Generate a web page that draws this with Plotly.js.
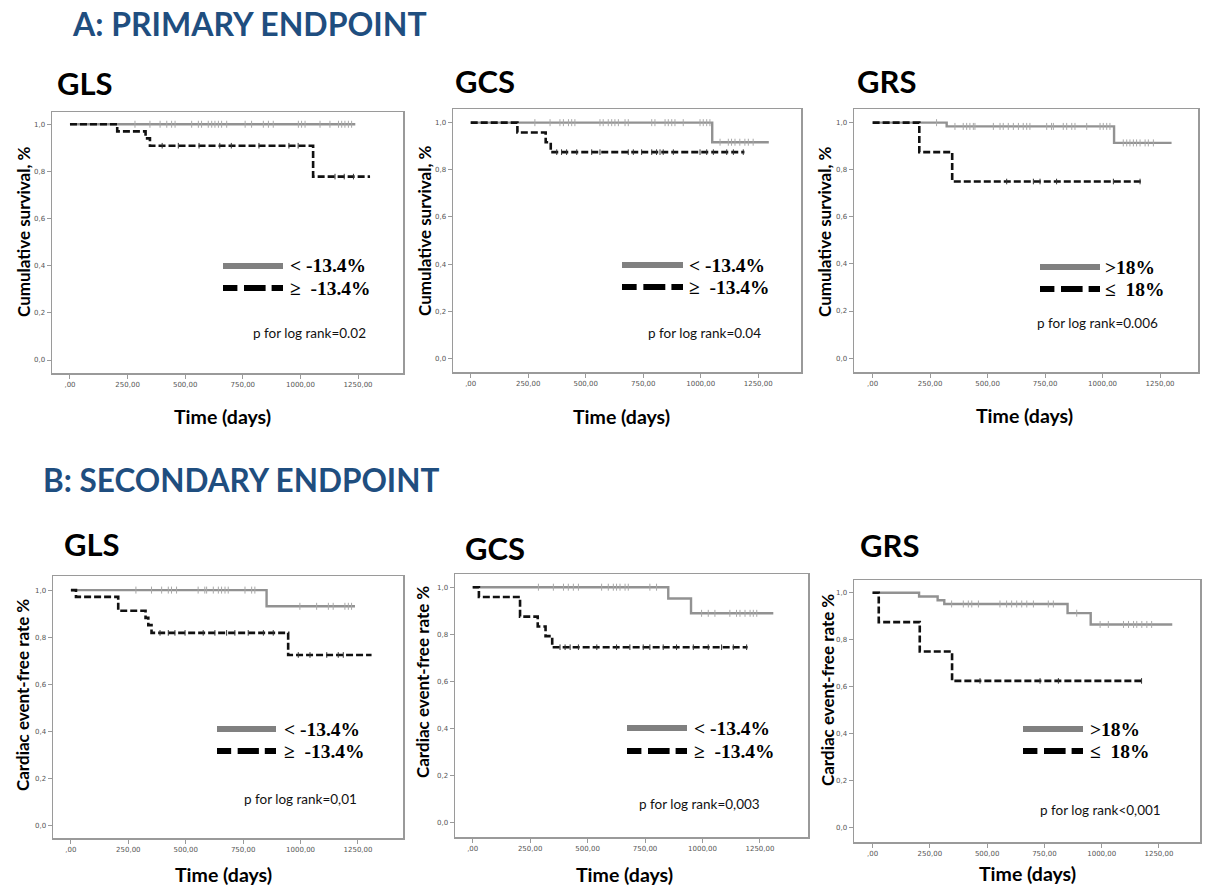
<!DOCTYPE html>
<html>
<head>
<meta charset="utf-8">
<script src="https://cdn.plot.ly/plotly-3.0.1.min.js"></script>
<style>html,body{margin:0;padding:0;background:#fff;}#chart{width:1210px;height:888px;}</style>
</head>
<body>
<div id="chart"></div>
<script>
// ---------- tick labels ----------
const xTickVals = [0, 250, 500, 750, 1000, 1250];
const xTickText = [',00', '250,00', '500,00', '750,00', '1000,00', '1250,00'];
const yTickVals = [0, 0.2, 0.4, 0.6, 0.8, 1.0];
const yTickText = ['0,0', '0,2', '0,4', '0,6', '0,8', '1,0'];

// ---------- panel texts ----------
const sectionTitles = ['A: PRIMARY ENDPOINT', 'B: SECONDARY ENDPOINT'];
const panelNames = ['GLS', 'GCS', 'GRS', 'GLS', 'GCS', 'GRS'];
const yTitles = ['Cumulative survival, %', 'Cumulative survival, %', 'Cumulative survival, %',
                 'Cardiac event-free rate %', 'Cardiac event-free rate %', 'Cardiac event-free rate %'];
const xTitle = 'Time (days)';
const legendHigh = ['< -13.4%', '< -13.4%', '>18%', '< -13.4%', '< -13.4%', '>18%'];
const legendLow = ['\u2265  -13.4%', '\u2265  -13.4%', '\u2264  18%', '\u2265  -13.4%', '\u2265  -13.4%', '\u2264  18%'];
const pTexts = ['p for log rank=0.02', 'p for log rank=0.04', 'p for log rank=0.006',
                'p for log rank=0,01', 'p for log rank=0,003', 'p for log rank<0,001'];

// ---------- Kaplan-Meier step data (days, survival) ----------
// A: primary endpoint
const a1HighT = [0, 1238];
const a1HighS = [1, 1];
const a1HighCens = [282, 347, 391, 420, 441, 456, 528, 557, 571, 600, 615, 629, 644, 658, 680, 760, 788, 839, 861, 882, 991, 1005, 1020, 1085, 1128, 1165, 1179, 1193, 1208, 1222];
const a1LowT = [0, 205, 328, 347, 1055, 1302];
const a1LowS = [1, 0.970, 0.940, 0.909, 0.778, 0.778];
const a1LowCens = [400, 470, 560, 650, 700, 820, 950, 990, 1150, 1190, 1230];

const a2HighT = [0, 1050, 1296];
const a2HighS = [1, 0.917, 0.917];
const a2HighCens = [279, 345, 388, 403, 425, 439, 453, 562, 576, 598, 613, 627, 642, 671, 685, 787, 801, 845, 859, 874, 888, 924, 997, 1011, 1026, 1040, 1084, 1120, 1134, 1149, 1170, 1192, 1207, 1228];
const a2LowT = [0, 203, 326, 348, 1190];
const a2LowS = [1, 0.958, 0.917, 0.875, 0.875];
const a2LowCens = [374, 395, 417, 461, 526, 562, 685, 707, 743, 787, 808, 823, 837, 881, 997, 1026, 1055, 1113, 1142, 1185];

const a3HighT = [0, 322, 1050, 1300];
const a3HighS = [1, 0.984, 0.914, 0.914];
const a3HighCens = [278, 358, 394, 409, 423, 438, 445, 525, 554, 568, 590, 612, 634, 655, 670, 684, 757, 778, 786, 829, 844, 866, 880, 931, 989, 1003, 1018, 1032, 1090, 1105, 1119, 1134, 1148, 1163, 1185, 1199, 1221];
const a3LowT = [0, 203, 346, 1168];
const a3LowS = [1, 0.875, 0.75, 0.75];
const a3LowCens = [583, 699, 728, 800, 1047, 1163];

// B: secondary endpoint
const b1HighT = [0, 852, 1237];
const b1HighS = [1, 0.931, 0.931];
const b1HighCens = [283, 351, 395, 424, 438, 460, 554, 583, 591, 620, 642, 656, 671, 685, 758, 787, 801, 997, 1070, 1121, 1142, 1193, 1208, 1222];
const b1LowT = [0, 22, 206, 325, 337, 351, 946, 1309];
const b1LowS = [1, 0.971, 0.912, 0.882, 0.851, 0.818, 0.724, 0.724];
const b1LowCens = [388, 424, 453, 497, 576, 627, 678, 714, 772, 838, 881, 990, 1041, 1114, 1164, 1186];

const b2HighT = [0, 851, 950, 1308];
const b2HighS = [1, 0.952, 0.889, 0.889];
const b2HighCens = [286, 351, 395, 416, 438, 460, 561, 590, 612, 626, 641, 663, 677, 771, 800, 996, 1025, 1054, 1119, 1148, 1163, 1185, 1207, 1221, 1236];
const b2LowT = [0, 27, 206, 283, 317, 346, 1196];
const b2LowS = [1, 0.958, 0.875, 0.833, 0.792, 0.745, 0.745];
const b2LowCens = [380, 402, 424, 460, 540, 626, 684, 742, 771, 829, 887, 960, 1025, 1083, 1134, 1192];

const b3HighT = [0, 203, 284, 313, 851, 952, 1308];
const b3HighS = [1, 0.984, 0.968, 0.952, 0.913, 0.865, 0.865];
const b3HighCens = [345, 396, 418, 433, 462, 556, 585, 607, 629, 651, 673, 702, 767, 789, 891, 993, 1029, 1095, 1117, 1139, 1153, 1175, 1197, 1218];
const b3LowT = [0, 27, 206, 347, 1174];
const b3LowS = [1, 0.875, 0.75, 0.625, 0.625];
const b3LowCens = [469, 731, 811, 1174];

// ---------- layout geometry (pixels) ----------
const W = 1210, H = 888;
const px = v => v / W;
const py = v => 1 - v / H;

const panels = [
  {box: [52, 403, 112, 373], xr: [-78, 1445], yr: [-0.055, 1.052],
   high: [a1HighT, a1HighS, a1HighCens], low: [a1LowT, a1LowS, a1LowCens],
   name: [55, 83], ytitle: [23, 232], xtitle: [222, 416], leg: [223, 283, 266, 288, 288], p: [309, 333]},
  {box: [453, 801, 109, 372], xr: [-77, 1436], yr: [-0.058, 1.058],
   high: [a2HighT, a2HighS, a2HighCens], low: [a2LowT, a2LowS, a2LowCens],
   name: [453, 81], ytitle: [425, 231], xtitle: [621, 416], leg: [622, 683, 265, 287, 687], p: [704, 333]},
  {box: [854, 1198, 109, 372], xr: [-81, 1415], yr: [-0.059, 1.058],
   high: [a3HighT, a3HighS, a3HighCens], low: [a3LowT, a3LowS, a3LowCens],
   name: [855, 81], ytitle: [825, 231], xtitle: [1024, 415], leg: [1040, 1100, 267, 289, 1103], p: [1097, 323]},
  {box: [53, 403, 576, 838], xr: [-78, 1446], yr: [-0.055, 1.06],
   high: [b1HighT, b1HighS, b1HighCens], low: [b1LowT, b1LowS, b1LowCens],
   name: [62, 544], ytitle: [22, 695], xtitle: [223, 874], leg: [217, 276, 729, 751, 282], p: [300, 799]},
  {box: [455, 808, 574, 837], xr: [-77, 1459], yr: [-0.061, 1.056],
   high: [b2HighT, b2HighS, b2HighCens], low: [b2LowT, b2LowS, b2LowCens],
   name: [463, 548], ytitle: [422, 682], xtitle: [624, 874], leg: [627, 687, 728, 751, 692], p: [699, 804]},
  {box: [854, 1200, 580, 842], xr: [-81, 1429], yr: [-0.06, 1.054],
   high: [b3HighT, b3HighS, b3HighCens], low: [b3LowT, b3LowS, b3LowCens],
   name: [858, 545], ytitle: [827, 690], xtitle: [1027, 873], leg: [1023, 1083, 729, 751, 1088], p: [1100, 810]}
];

const GRAY = '#929292';
const BLACK = '#111111';

// value lookup for censor marks on a step curve
function stepValue(T, S, t) {
  let v = S[0];
  for (let i = 0; i < T.length; i++) { if (T[i] <= t) v = S[i]; }
  return v;
}

const traces = [];
const layout = {
  width: W, height: H,
  margin: {l: 0, r: 0, t: 0, b: 0},
  paper_bgcolor: '#ffffff', plot_bgcolor: '#ffffff',
  showlegend: false,
  shapes: [], annotations: []
};

panels.forEach((p, i) => {
  const n = i + 1;
  const xa = n === 1 ? 'x' : 'x' + n;
  const ya = n === 1 ? 'y' : 'y' + n;
  const xKey = n === 1 ? 'xaxis' : 'xaxis' + n;
  const yKey = n === 1 ? 'yaxis' : 'yaxis' + n;
  const axBase = {showgrid: false, zeroline: false, showline: true, mirror: true,
                  linecolor: '#9a9a9a', linewidth: 1.5, ticks: 'outside', ticklen: 4,
                  tickcolor: '#9a9a9a', tickwidth: 1,
                  tickfont: {family: 'DejaVu Sans', size: 7, color: '#555'}};
  layout[xKey] = Object.assign({}, axBase, {
    domain: [px(p.box[0]), px(p.box[1])], range: p.xr, anchor: ya,
    tickmode: 'array', tickvals: xTickVals, ticktext: xTickText, fixedrange: true});
  layout[yKey] = Object.assign({}, axBase, {
    domain: [py(p.box[3]), py(p.box[2])], range: p.yr, anchor: xa,
    tickmode: 'array', tickvals: yTickVals, ticktext: yTickText, fixedrange: true});

  // curves
  traces.push({x: p.high[0], y: p.high[1], xaxis: xa, yaxis: ya, mode: 'lines',
               line: {shape: 'hv', color: GRAY, width: 2.4}, hoverinfo: 'skip'});
  traces.push({x: p.high[2], y: p.high[2].map(t => stepValue(p.high[0], p.high[1], t)),
               xaxis: xa, yaxis: ya, mode: 'markers', hoverinfo: 'skip',
               marker: {symbol: 'line-ns', size: 5, line: {color: '#a8a8a8', width: 1}}});
  traces.push({x: p.low[0], y: p.low[1], xaxis: xa, yaxis: ya, mode: 'lines',
               line: {shape: 'hv', color: BLACK, width: 2.6, dash: '7px,3px'}, hoverinfo: 'skip'});
  traces.push({x: p.low[2], y: p.low[2].map(t => stepValue(p.low[0], p.low[1], t)),
               xaxis: xa, yaxis: ya, mode: 'markers', hoverinfo: 'skip',
               marker: {symbol: 'line-ns', size: 4, line: {color: '#333', width: 1}}});

  // legend swatches
  const L = p.leg;
  layout.shapes.push({type: 'line', xref: 'paper', yref: 'paper',
    x0: px(L[0]), x1: px(L[1]), y0: py(L[2]), y1: py(L[2]),
    line: {color: '#808080', width: 6}});
  const segLen = (L[1] - L[0]);
  const a = L[0], b = L[0] + segLen * 0.24, c = L[0] + segLen * 0.35, d = L[0] + segLen * 0.71, e = L[0] + segLen * 0.81;
  [[a, b], [c, d], [e, L[1]]].forEach(sg => {
    layout.shapes.push({type: 'line', xref: 'paper', yref: 'paper',
      x0: px(sg[0]), x1: px(sg[1]), y0: py(L[3]), y1: py(L[3]),
      line: {color: '#000', width: 6}});
  });
  layout.annotations.push({xref: 'paper', yref: 'paper', x: px(L[4]), y: py(L[2]),
    xanchor: 'left', yanchor: 'middle', showarrow: false, text: '<b>' + legendHigh[i].replace('<', '&lt;') + '</b>',
    font: {family: 'Liberation Serif', size: 19.5, color: '#000'}});
  layout.annotations.push({xref: 'paper', yref: 'paper', x: px(L[4]), y: py(L[3]),
    xanchor: 'left', yanchor: 'middle', showarrow: false, text: '<b>' + legendLow[i] + '</b>',
    font: {family: 'Liberation Serif', size: 19.5, color: '#000'}});
  // p value text
  layout.annotations.push({xref: 'paper', yref: 'paper', x: px(p.p[0]), y: py(p.p[1]),
    xanchor: 'center', yanchor: 'middle', showarrow: false, text: pTexts[i].replace('<', '&lt;'),
    font: {family: 'Lato', size: 13.5, color: '#111'}});
  // panel name
  layout.annotations.push({xref: 'paper', yref: 'paper', x: px(p.name[0]), y: py(p.name[1]),
    xanchor: 'left', yanchor: 'middle', showarrow: false, text: '<b>' + panelNames[i] + '</b>',
    font: {family: 'Lato', size: 31, color: '#000'}});
  // axis titles
  layout.annotations.push({xref: 'paper', yref: 'paper', x: px(p.ytitle[0]), y: py(p.ytitle[1]),
    xanchor: 'center', yanchor: 'middle', showarrow: false, textangle: -90,
    text: '<b>' + yTitles[i] + '</b>', font: {family: 'Lato', size: 17, color: '#000'}});
  layout.annotations.push({xref: 'paper', yref: 'paper', x: px(p.xtitle[0]), y: py(p.xtitle[1]),
    xanchor: 'center', yanchor: 'middle', showarrow: false,
    text: '<b>' + xTitle + '</b>', font: {family: 'Lato', size: 19.5, color: '#000'}});
});

// section headers
layout.annotations.push({xref: 'paper', yref: 'paper', x: px(70), y: py(24),
  xanchor: 'left', yanchor: 'middle', showarrow: false, text: '<b>' + sectionTitles[0] + '</b>',
  font: {family: 'Lato', size: 32, color: '#1f4e7f'}});
layout.annotations.push({xref: 'paper', yref: 'paper', x: px(41), y: py(480),
  xanchor: 'left', yanchor: 'middle', showarrow: false, text: '<b>' + sectionTitles[1] + '</b>',
  font: {family: 'Lato', size: 31.5, color: '#1f4e7f'}});

Plotly.newPlot('chart', traces, layout, {staticPlot: true, displayModeBar: false});
</script>
</body>
</html>
